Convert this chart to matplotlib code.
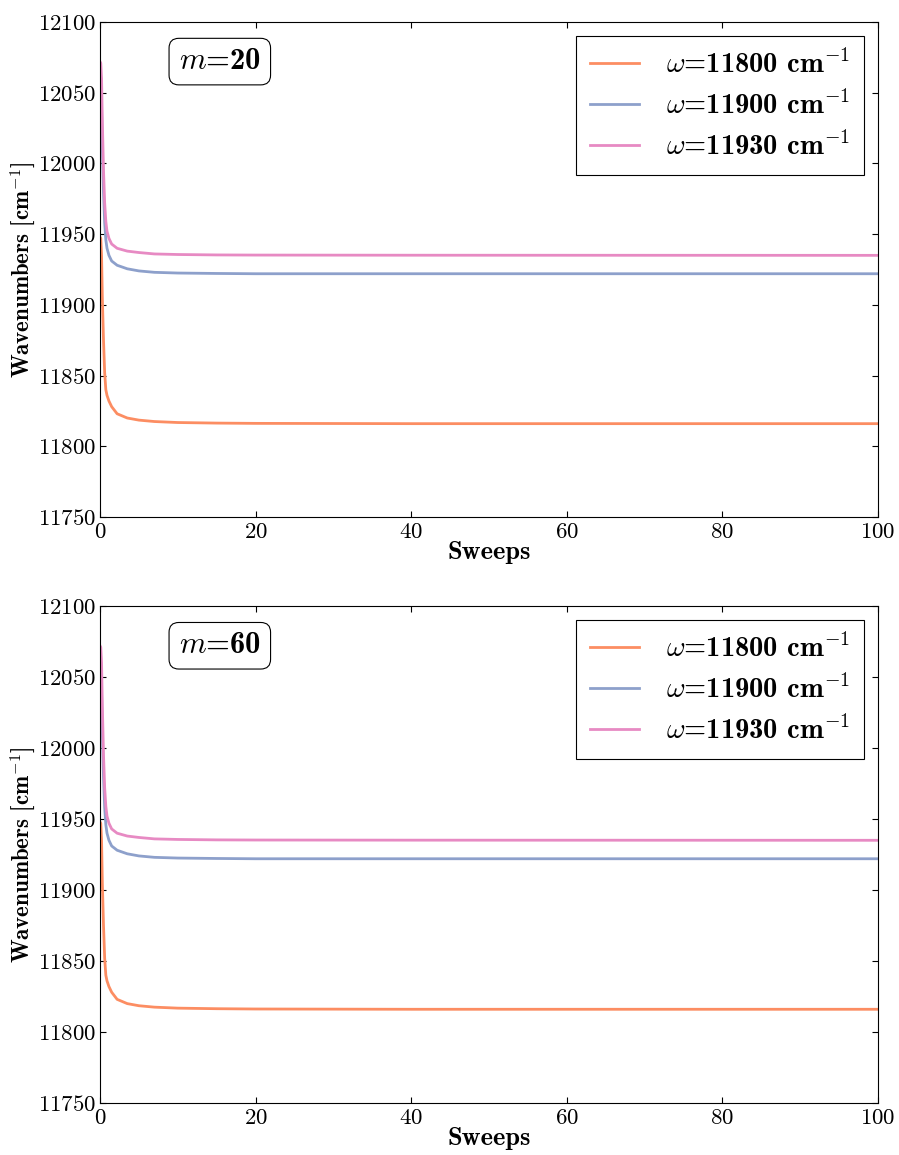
import matplotlib
matplotlib.use('Agg')
import matplotlib.pyplot as plt

# sweep positions
sweeps = [0, 0.1, 0.2, 0.3, 0.45, 0.6, 0.75, 0.9, 1.15, 1.5, 2.2, 3.5, 5, 7, 10, 15, 20, 40, 100]

w11800 = [11948, 11947, 11935, 11905, 11875, 11852, 11840, 11836, 11832, 11828, 11823,
          11820, 11818.5, 11817.5, 11816.8, 11816.4, 11816.2, 11816, 11816]
w11900 = [12066, 12060, 12040, 12010, 11980, 11958, 11946, 11940, 11935, 11931, 11928,
          11925.5, 11924, 11923, 11922.5, 11922.2, 11922, 11922, 11922]
w11930 = [12072, 12071, 12060, 12030, 11995, 11972, 11959, 11952, 11947, 11943, 11940,
          11938, 11937, 11936, 11935.6, 11935.3, 11935.2, 11935.1, 11935]

# the m=60 run looks the same as m=20 in the figure
bond_dims = [20, 60]
series = [w11800, w11900, w11930]
labels = [r'$\omega$=11800 cm$^{-1}$', r'$\omega$=11900 cm$^{-1}$', r'$\omega$=11930 cm$^{-1}$']
colors = ['#fc8d62', '#8da0cb', '#e78ac3']

plt.rcParams['font.family'] = ['cmr10', 'DejaVu Serif']
plt.rcParams['mathtext.fontset'] = 'cm'
plt.rcParams['axes.formatter.use_mathtext'] = True
plt.rcParams['xtick.direction'] = 'in'
plt.rcParams['ytick.direction'] = 'in'
plt.rcParams['xtick.top'] = True
plt.rcParams['ytick.right'] = True
plt.rcParams['xtick.major.size'] = 4
plt.rcParams['ytick.major.size'] = 4

bold = ['cmb10', 'DejaVu Sans']

fig = plt.figure(figsize=(8.99, 11.55), dpi=100)
W, H = 899.0, 1155.0
boxes = [(100, 22, 878, 517), (100, 606, 878, 1103)]

for m, (l, t, r, b) in zip(bond_dims, boxes):
    ax = fig.add_axes([l / W, 1 - b / H, (r - l) / W, (b - t) / H])
    for y, lab, c in zip(series, labels, colors):
        ax.plot(sweeps, y, color=c, lw=2, label=lab)
    ax.set_xlim(0, 100)
    ax.set_ylim(11750, 12100)
    ax.set_xticks([0, 20, 40, 60, 80, 100])
    ax.set_yticks(range(11750, 12101, 50))
    ax.tick_params(axis='x', labelsize=16.5, pad=4)
    ax.tick_params(axis='y', labelsize=16.5, pad=2.5)
    ax.set_xlabel('Sweeps', fontsize=19, family=bold, labelpad=-1)
    ax.set_ylabel('Wavenumbers [cm$^{-1}$]', fontsize=16.5, family=bold, labelpad=0)
    leg = ax.legend(loc='upper right', fancybox=False, edgecolor='black',
                    framealpha=1, handlelength=1.7, handletextpad=0.95, labelspacing=0.42,
                    borderpad=0.5, borderaxespad=0.5, prop={'family': bold, 'size': 20.5})
    leg.get_frame().set_linewidth(0.8)
    ax.text(0.154, 0.92, r'$m$=%d' % m, transform=ax.transAxes, fontsize=22,
            family=bold, ha='center', va='center',
            bbox=dict(boxstyle='round,pad=0.32', facecolor='white', edgecolor='black', lw=0.8))

plt.savefig('out.png', dpi=100)
